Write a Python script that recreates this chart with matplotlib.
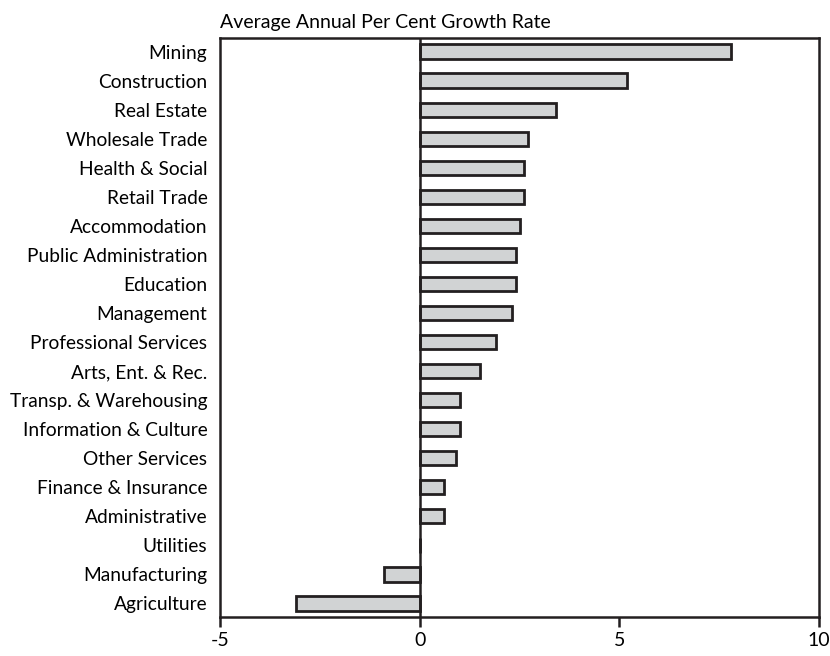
import matplotlib
matplotlib.use("Agg")
import matplotlib.pyplot as plt
import numpy as np

plt.rcParams['font.family'] = ['Lato', 'DejaVu Sans']

categories = ["Mining", "Construction", "Real Estate", "Wholesale Trade", "Health & Social",
              "Retail Trade", "Accommodation", "Public Administration", "Education", "Management",
              "Professional Services", "Arts, Ent. & Rec.", "Transp. & Warehousing",
              "Information & Culture", "Other Services", "Finance & Insurance", "Administrative",
              "Utilities", "Manufacturing", "Agriculture"]
values = [7.8, 5.2, 3.4, 2.7, 2.6, 2.6, 2.5, 2.4, 2.4, 2.3, 1.9, 1.5, 1.0, 1.0, 0.9, 0.6, 0.6,
          0.0, -0.9, -3.1]
xticks = [-5, 0, 5, 10]
title = "Average Annual Per Cent Growth Rate"

fig = plt.figure(figsize=(8.3, 6.56), dpi=100)
ax = fig.add_axes([0.265, 0.0595, 0.722, 0.8825])

y = np.arange(len(categories))
ax.barh(y, values, height=0.5, color="#d1d3d4", edgecolor="#231f20", linewidth=2.0, zorder=3)
ax.axvline(0, color="#231f20", linewidth=1.8, zorder=4)

ax.set_xlim(-5, 10)
ax.set_ylim(len(categories) - 1 + 0.47, -0.47)
ax.set_xticks(xticks)
ax.set_xticklabels([str(t) for t in xticks], fontsize=14)
ax.set_yticks(y)
ax.set_yticklabels(categories, fontsize=13.8)
ax.tick_params(axis='y', length=0, pad=9)
ax.tick_params(axis='x', length=7, width=1.8, color="#231f20", pad=4)
for s in ax.spines.values():
    s.set_linewidth(1.8)
    s.set_color("#231f20")

ax.text(0.0, 1.012, title, transform=ax.transAxes, fontsize=14, ha='left', va='bottom')

fig.savefig("out.png", dpi=100)
